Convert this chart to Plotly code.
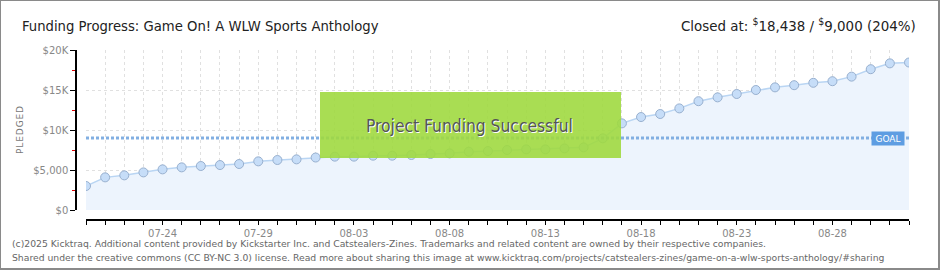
import plotly.graph_objects as go
import pandas as pd

# ---------------- data ----------------
start_date = "2025-07-20"
pledged = [3000, 4080, 4330, 4700, 5080, 5330, 5500, 5620, 5750, 6080,
           6250, 6330, 6560, 6670, 6670, 6790, 6790, 6875, 7000, 7080,
           7290, 7370, 7500, 7580, 7580, 7700, 7830, 8960, 10830, 11620,
           12000, 12700, 13600, 14080, 14500, 15000, 15330, 15600, 15900, 16100,
           16670, 17600, 18330, 18438]
dates = pd.date_range(start_date, periods=len(pledged), freq="D")
goal = 9000
x_tick_dates = ["2025-07-24", "2025-07-29", "2025-08-03", "2025-08-08",
                "2025-08-13", "2025-08-18", "2025-08-23", "2025-08-28"]
x_tick_text = ["07-24", "07-29", "08-03", "08-08", "08-13", "08-18", "08-23", "08-28"]
y_tick_vals = [0, 5000, 10000, 15000, 20000]
y_tick_text = ["$0", "$5,000", "$10K", "$15K", "$20K"]

title_text = "Funding Progress: Game On! A WLW Sports Anthology"
closed_text = "Closed at: <sup>$</sup>18,438 / <sup>$</sup>9,000 (204%)"
banner_text = "Project Funding Successful"
footer1 = ("(c)2025 Kicktraq. Additional content provided by Kickstarter Inc. and "
           "Catstealers-Zines. Trademarks and related content are owned by their respective companies.")
footer2 = ("Shared under the creative commons (CC BY-NC 3.0) license. Read more about sharing this "
           "image at www.kicktraq.com/projects/catstealers-zines/game-on-a-wlw-sports-anthology/#sharing")

# ---------------- layout geometry ----------------
W, H = 940, 270
ML, MR, MT, MB = 76, 31, 50, 50
PW, PH = W - ML - MR, H - MT - MB


def px(xp):
    return (xp - ML) / PW


def py(yp):
    return (H - MB - yp) / PH


TITLE_FONT = "DejaVu Sans Condensed, Roboto, sans-serif"
SMALL_FONT = "DejaVu Sans, Verdana, sans-serif"

fig = go.Figure()
fig.add_trace(go.Scatter(
    x=dates, y=pledged, mode="lines+markers",
    line=dict(color="#b9d5f3", width=1.5),
    marker=dict(size=9, color="#c6ddf8", line=dict(color="#98b0cf", width=1)),
    fill="tozeroy", fillcolor="#edf4fd",
    hoverinfo="skip", showlegend=False,
))

shapes = [
    # goal line
    dict(type="line", xref="x domain", yref="y", x0=0, x1=1, y0=goal, y1=goal,
         line=dict(color="#82afe2", width=3, dash="3px,2px"), layer="above"),
    # success banner
    dict(type="rect", xref="x domain", yref="y domain",
         x0=(320 - 86) / 823, x1=(621 - 86) / 823,
         y0=(210 - 158) / 160, y1=(210 - 92) / 160,
         fillcolor="rgba(160,217,64,0.9)", line=dict(width=0), layer="above"),
    # outer border
    dict(type="rect", xref="paper", yref="paper",
         x0=px(0), x1=px(939), y0=py(269), y1=py(0),
         line=dict(color="#8a8a8a", width=2), fillcolor="rgba(0,0,0,0)"),
]

annotations = [
    dict(text=title_text, xref="paper", yref="paper", x=px(20), y=py(25),
         xanchor="left", yanchor="middle", showarrow=False,
         font=dict(family=TITLE_FONT, size=14.7, color="#222")),
    dict(text=closed_text, xref="paper", yref="paper", x=px(918), y=py(25),
         xanchor="right", yanchor="middle", showarrow=False,
         font=dict(family=TITLE_FONT, size=14.9, color="#222")),
    dict(text=banner_text, xref="paper", yref="paper", x=px(469), y=py(126),
         xanchor="center", yanchor="middle", showarrow=False,
         font=dict(family=TITLE_FONT, size=17.3, color="#555",
                   shadow="1px 1px 0px #ffffff")),
    dict(text="GOAL", xref="paper", yref="y", x=px(888), y=goal,
         xanchor="center", yanchor="middle", showarrow=False,
         bgcolor="#5e9de2", borderpad=1, width=30, height=11,
         font=dict(family=SMALL_FONT, size=9, color="#ffffff")),
    dict(text="P\u200aL\u200aE\u200aD\u200aG\u200aE\u200aD", xref="paper", yref="paper",
         x=px(20), y=py(130),
         xanchor="center", yanchor="middle", showarrow=False, textangle=-90,
         font=dict(family=SMALL_FONT, size=9, color="#777")),
    dict(text=footer1, xref="paper", yref="paper", x=px(10), y=py(243),
         xanchor="left", yanchor="middle", showarrow=False,
         font=dict(family=SMALL_FONT, size=9.25, color="#666")),
    dict(text=footer2, xref="paper", yref="paper", x=px(10), y=py(257),
         xanchor="left", yanchor="middle", showarrow=False,
         font=dict(family=SMALL_FONT, size=9.25, color="#666")),
]

fig.update_layout(
    width=W, height=H, autosize=False,
    margin=dict(l=ML, r=MR, t=MT, b=MB, pad=0),
    paper_bgcolor="#ffffff", plot_bgcolor="#ffffff",
    showlegend=False, shapes=shapes, annotations=annotations,
    xaxis=dict(
        type="date", domain=[10 / PW, 1], anchor="free", position=0,
        range=[dates[0], dates[-1]],
        tickvals=x_tick_dates, ticktext=x_tick_text,
        showline=True, linecolor="#000", linewidth=1.5,
        ticks="outside", ticklen=4, tickcolor="#000", tickwidth=1,
        showgrid=True, gridcolor="#e0e0e0", griddash="3px,3px", gridwidth=1,
        minor=dict(dtick=86400000, tick0=start_date, ticks="outside", ticklen=4,
                   tickcolor="#000", showgrid=True, gridcolor="#e0e0e0",
                   griddash="3px,3px"),
        tickfont=dict(family=SMALL_FONT, size=10, color="#888"),
        zeroline=False, fixedrange=True,
    ),
    yaxis=dict(
        domain=[10 / PH, 1], anchor="free", position=0,
        range=[0, 20000], tickvals=y_tick_vals, ticktext=y_tick_text,
        showline=True, linecolor="#000", linewidth=1.5,
        ticks="outside", ticklen=5, tickcolor="#000", tickwidth=1,
        showgrid=True, gridcolor="#e0e0e0", griddash="3px,3px", gridwidth=1,
        minor=dict(dtick=2500, tick0=0, ticks="outside", ticklen=3,
                   tickcolor="#e00000", showgrid=False),
        tickfont=dict(family=SMALL_FONT, size=10, color="#888"),
        zeroline=False, fixedrange=True,
    ),
)

fig.write_html("out.html")
